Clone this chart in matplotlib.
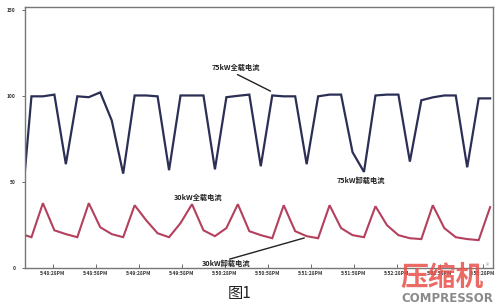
import matplotlib
matplotlib.use("Agg")
import matplotlib.pyplot as plt

plt.rcParams['font.family'] = ['Noto Sans CJK SC', 'DejaVu Sans']

# sample times (seconds after 5:48:00PM); first point is where the trace enters the axes
sample_t = [8.5] + [13 + 8 * k for k in range(41)]

current_75kw = [57, 100, 100, 101, 60.5, 100, 99.5, 102.3, 86, 55,
                100.5, 100.5, 100, 57, 100.5, 100.5, 100.5, 57.5, 99.5, 100.3,
                101, 59.3, 100.5, 100, 100, 60.5, 100, 101, 101, 67.5,
                56, 100.5, 101, 101, 62, 97.7, 99.4, 100.5, 100.5, 58.7,
                98.8, 98.8]

current_30kw = [19.2, 18, 37.8, 22, 19.8, 18, 37.8, 23.8, 19.8, 18,
                36.6, 27.9, 20.3, 18, 26.2, 37.2, 22, 18.6, 23.3, 37.2,
                21.5, 19.2, 17.4, 36.6, 21.5, 18.6, 17.4, 36.6, 23.3, 19.2,
                18, 36, 25, 19.2, 17.4, 16.9, 36.6, 23.3, 18, 16.9,
                16.3, 35.5]

xtick_pos = [28 + 30 * k for k in range(11)]
xtick_labels = ["5:48:28PM", "5:48:58PM", "5:49:28PM", "5:49:58PM", "5:50:28PM",
                "5:50:58PM", "5:51:28PM", "5:51:58PM", "5:52:28PM", "5:52:58PM",
                "5:53:28PM"]
ytick_pos = [0, 50, 100, 150]
ytick_labels = ["0", "50", "100", "150"]

fig = plt.figure(figsize=(5.0, 3.04), dpi=100)
ax = fig.add_axes([0.05, 0.118, 0.936, 0.859])

ax.plot(sample_t, current_75kw, color="#2c2f55", lw=1.6, solid_joinstyle="miter")
ax.plot(sample_t, current_30kw, color="#b3405c", lw=1.5, solid_joinstyle="miter")

ax.set_xlim(8.5, 335)
ax.set_ylim(0, 152)
ax.set_xticks(xtick_pos)
ax.set_xticklabels(xtick_labels, fontsize=3.5, fontweight="bold", color="#333333")
ax.set_yticks(ytick_pos)
ax.set_yticklabels(ytick_labels, fontsize=3.5, fontweight="bold", color="#333333")
ax.tick_params(axis="x", direction="in", length=3, width=0.6, pad=2, colors="#555555", labelcolor="#333333")
ax.tick_params(axis="y", direction="out", length=2, width=0.6, pad=5, colors="#555555", labelcolor="#333333")
for s in ax.spines.values():
    s.set_color("#777777")
    s.set_linewidth(1.0)

fs = 5.2
ax.text(155.7, 116.9, "75kW全载电流", fontsize=fs, fontweight="bold", ha="center", va="center", color="#222222")
ax.annotate("", xy=(181.5, 102.3), xytext=(155, 113.4),
            arrowprops=dict(arrowstyle="-", color="#222222", lw=1.0))
ax.text(242.9, 51.2, "75kW卸载电流", fontsize=fs, fontweight="bold", ha="center", va="center", color="#222222")
ax.text(129.2, 41.3, "30kW全载电流", fontsize=fs, fontweight="bold", ha="center", va="center", color="#222222")
ax.text(148.7, 2.6, "30kW卸载电流", fontsize=fs, fontweight="bold", ha="center", va="center", color="#222222")
ax.annotate("", xy=(205.2, 18.0), xytext=(149.4, 4.8),
            arrowprops=dict(arrowstyle="-", color="#222222", lw=1.0))

# caption
fig.text(0.48, 0.035, "图1", fontsize=11, ha="center", va="center", color="#222222")

# watermark
fig.text(0.885, 0.085, "压缩机", fontsize=20, fontweight="bold", ha="center", va="center",
         color="#e8504a", alpha=0.85)
fig.text(0.895, 0.018, "COMPRESSOR", fontsize=8.5, fontweight="bold", ha="center", va="center",
         color="#8a8a8a", family=["DejaVu Sans"])
fig.text(0.975, 0.125, "®", fontsize=5, ha="center", va="center", color="#999999")

fig.savefig("out.png", dpi=100)
